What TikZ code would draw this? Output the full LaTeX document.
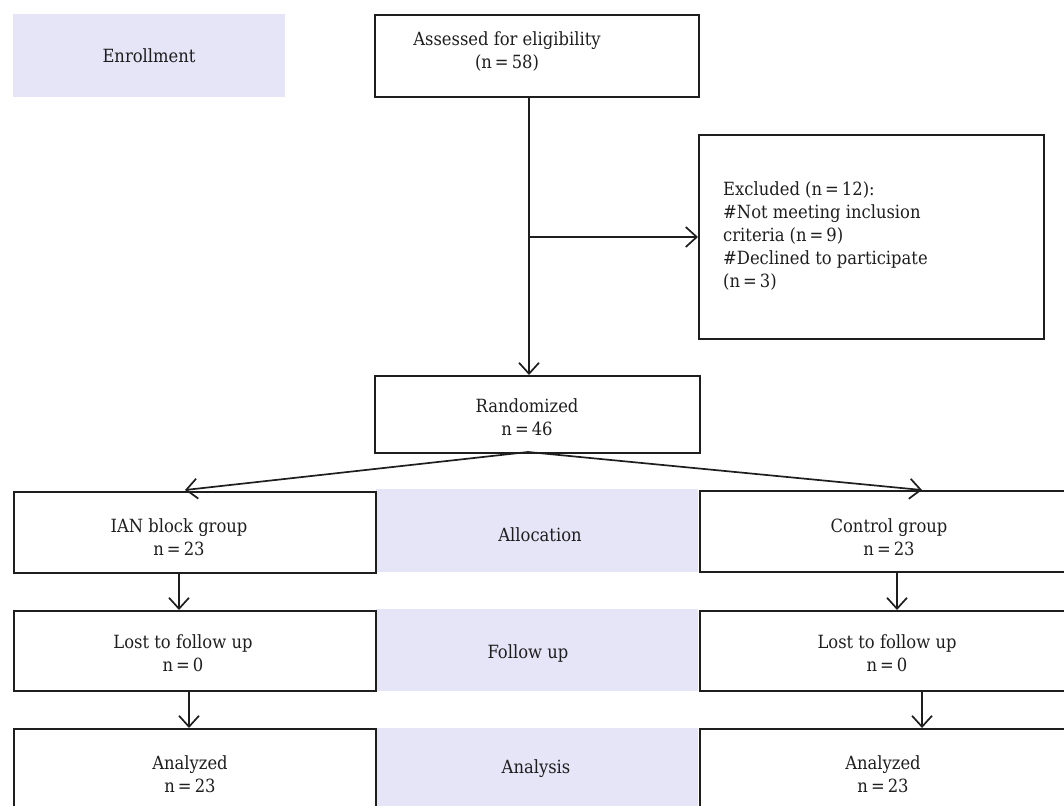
\documentclass[tikz,border=0pt]{standalone}
\usepackage{fontspec}
\setmainfont{DejaVu Serif Condensed}
\usetikzlibrary{arrows.meta}
\definecolor{lav}{RGB}{230,228,247}
\definecolor{ink}{RGB}{30,30,30}
\begin{document}
\begin{tikzpicture}[x=1pt,y=-1pt,
  box/.style={draw=ink, line width=2.2pt, anchor=north west, inner sep=0pt},
  band/.style={fill=lav, anchor=north west, inner sep=0pt},
  txt/.style={font=\fontsize{18.2}{23}\selectfont, align=center, text=ink, inner sep=0pt},
  arr/.style={line width=1.7pt, draw=ink, -{Straight Barb[length=11pt,width=20pt,line width=1.7pt]}}
]
\useasboundingbox (0,0) rectangle (1064,805);
\clip (0,0) rectangle (1064,805);

% shaded stage labels
\node[band, minimum width=272pt, minimum height=83pt] (enroll) at (13,14) {};
\node[txt] (enrolltxt) at (149,56) {Enrollment};
\node[band, minimum width=322pt, minimum height=83pt] (alloc) at (376,489) {};
\node[txt] (alloctxt) at (540,535) {Allocation};
\node[band, minimum width=322pt, minimum height=82pt] (follow) at (376,609) {};
\node[txt] (followtxt) at (528,653) {Follow up};
\node[band, minimum width=322pt, minimum height=90pt] (analysis) at (376,728) {};
\node[txt] (analysistxt) at (536,769) {Analysis};

% boxes
\node[box, minimum width=324pt, minimum height=82pt] (assessed) at (374,14) {};
\node[txt] (assessedtxt) at (507,52) {Assessed for eligibility\\(n\,=\,58)};

\node[box, minimum width=345pt, minimum height=204pt] (excluded) at (698,134) {};
\node[txt, anchor=west, align=left] (excludedtxt) at (723,236) {Excluded (n\,=\,12):\\\#Not meeting inclusion\\criteria (n\,=\,9)\\\#Declined to participate\\(n\,=\,3)};

\node[box, minimum width=325pt, minimum height=77pt] (rand) at (374,375) {};
\node[txt] (randtxt) at (527,417) {Randomized\\n\,=\,46};

\node[box, minimum width=362pt, minimum height=81pt] (ian) at (13,491) {};
\node[txt] (iantxt) at (179,537) {IAN block group\\n\,=\,23};
\node[box, minimum width=380pt, minimum height=81pt] (ctrl) at (699,490) {};
\node[txt] (ctrltxt) at (889,537) {Control group\\n\,=\,23};

\node[box, minimum width=362pt, minimum height=80pt] (lost1) at (13,610) {};
\node[txt] (lost1txt) at (183,653) {Lost to follow up\\n\,=\,0};
\node[box, minimum width=380pt, minimum height=80pt] (lost2) at (699,610) {};
\node[txt] (lost2txt) at (887,653) {Lost to follow up\\n\,=\,0};

\node[box, minimum width=362pt, minimum height=100pt] (anal1) at (13,728) {};
\node[txt] (anal1txt) at (190,774) {Analyzed\\n\,=\,23};
\node[box, minimum width=380pt, minimum height=100pt] (anal2) at (699,728) {};
\node[txt] (anal2txt) at (883,774) {Analyzed\\n\,=\,23};

% connector points
\coordinate (aout) at (529,96);
\coordinate (rin) at (529,375);
\coordinate (branch) at (529,237);
\coordinate (rout) at (528,452);
\coordinate (ianin) at (185,490);
\coordinate (ctrlin) at (922,490);
\coordinate (ianout) at (179,572);
\coordinate (lost1in) at (179,610);
\coordinate (lost1out) at (189,690);
\coordinate (anal1in) at (189,728);
\coordinate (ctrlout) at (897,571);
\coordinate (lost2in) at (897,610);
\coordinate (lost2out) at (922,690);
\coordinate (anal2in) at (922,728);

\draw[arr] (aout) -- (rin);
\draw[arr] (branch) -- (branch -| excluded.west);
\draw[arr] (rout) -- (ianin);
\draw[arr] (rout) -- (ctrlin);
\draw[arr] (ianout) -- (lost1in);
\draw[arr] (lost1out) -- (anal1in);
\draw[arr] (ctrlout) -- (lost2in);
\draw[arr] (lost2out) -- (anal2in);
\end{tikzpicture}
\end{document}
